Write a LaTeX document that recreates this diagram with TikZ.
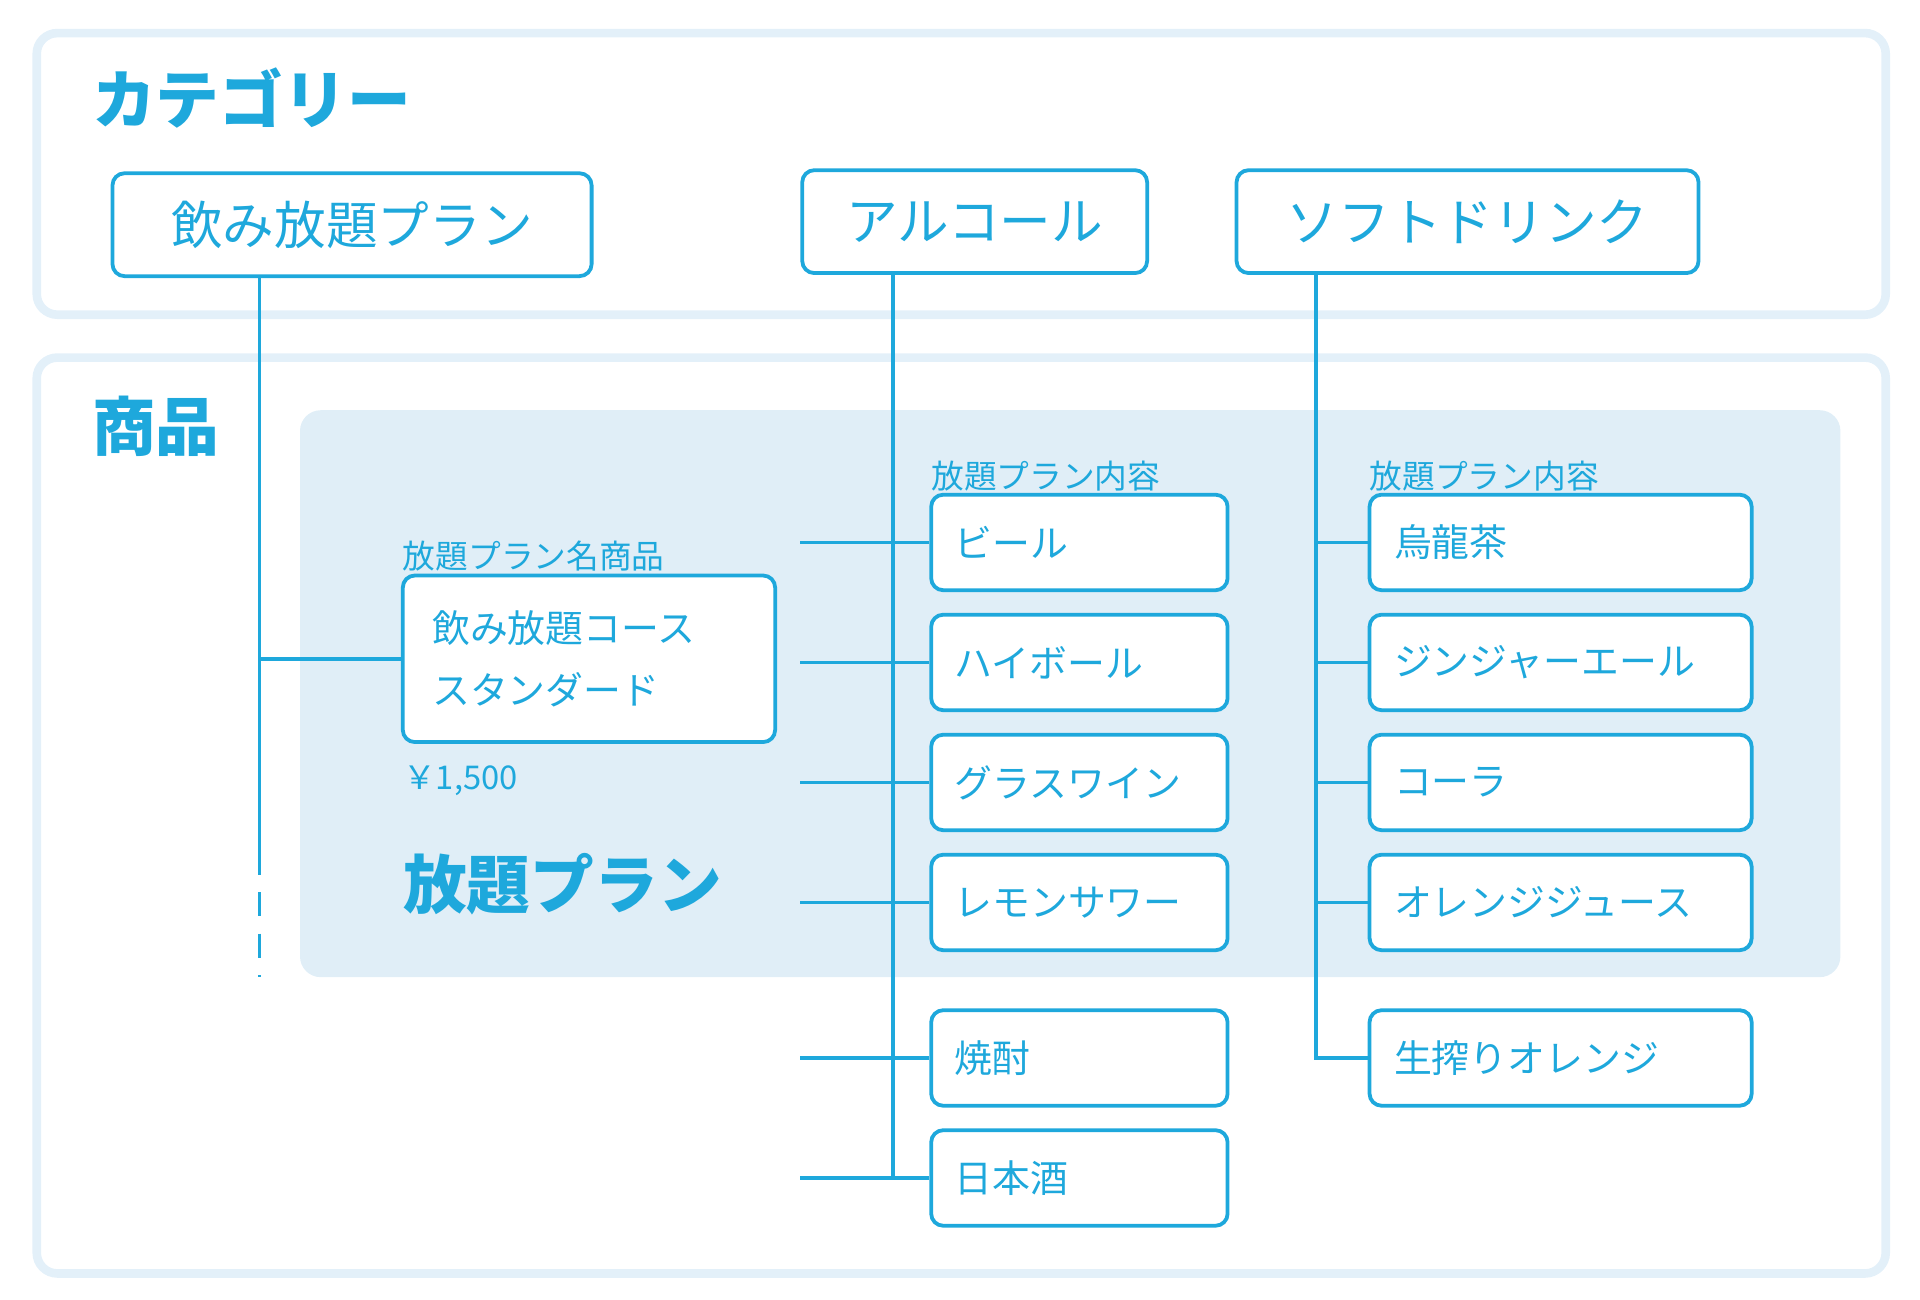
\documentclass[tikz,border=0pt]{standalone}
\usepackage{fontspec}
\setmainfont{Noto Sans CJK JP}
\usetikzlibrary{positioning}
\definecolor{skyblue}{HTML}{1EA8DC}
\definecolor{paleframe}{HTML}{E3F0F9}
\definecolor{panelfill}{HTML}{E0EEF7}
\tikzset{
  frame/.style={draw=paleframe,line width=5pt,rounded corners=12pt},
  catbox/.style={draw=skyblue,line width=2.2pt,rounded corners=7pt,text=skyblue,
    font=\fontsize{30pt}{34pt}\selectfont,minimum height=2.1cm,inner xsep=0.9cm},
  itembox/.style={draw=skyblue,line width=2.2pt,rounded corners=7pt,text=skyblue,fill=white,
    font=\fontsize{22pt}{26pt}\selectfont,minimum height=1.95cm,minimum width=6.05cm,
    text width=5.1cm,align=left},
  caption/.style={text=skyblue,font=\fontsize{19pt}{22pt}\selectfont,anchor=south west,inner sep=1pt},
  heading/.style={text=skyblue,font=\fontsize{37pt}{40pt}\selectfont\bfseries,anchor=west,inner sep=0pt},
  link/.style={draw=skyblue,line width=2.2pt}
}
\begin{document}
\begin{tikzpicture}[x=0.025cm,y=-0.025cm]
\useasboundingbox (0,0) rectangle (1568,1061);
% frames
\draw[frame] (30,27) rectangle (1540,257);
\draw[frame] (30,292) rectangle (1540,1040);
\fill[panelfill,rounded corners=12pt] (245,335) rectangle (1503,798);
\node[heading] (cattitle) at (75,80) {カテゴリー};
\node[heading] (itemtitle) at (75,348) {商品};
% categories
\node[catbox,minimum width=9.78cm] (plan) at (287.5,183.5) {飲み放題プラン};
\node[catbox,minimum width=6.95cm] (alcohol) at (796,181) {アルコール};
\node[catbox,minimum width=9.43cm] (soft) at (1198.5,181) {ソフトドリンク};
% plan
\node[itembox,minimum width=7.6cm,minimum height=3.4cm,text width=6.4cm,
  font=\fontsize{22pt}{36pt}\selectfont] (course) at (481,538) {飲み放題コース\\スタンダード};
\node[caption] (coursecap) at (course.north west) {放題プラン名商品};
\node[caption,anchor=north west,inner sep=0pt] (price) at (329,625) {￥1,500};
\node[heading] (panelname) at (329,722) {放題プラン};
\coordinate (plantop) at (212,227);
\coordinate (planmid) at (212,695);
\coordinate (planend) at (212,798);
\draw[link] (plantop) -- (planmid);
\draw[link,dash pattern=on 14pt off 10pt] (planmid) -- (planend);
\draw[link] (course.west) -- (course.west -| plantop);
% alcohol
\foreach \name/\txt/\y in {beer/ビール/443,highball/ハイボール/541,wine/グラスワイン/639,
    sour/レモンサワー/737,shochu/焼酎/864,sake/日本酒/962}{
  \node[itembox] (\name) at (881.5,\y) {\txt};
  \draw[link] (\name.west) -- (\name.west -| alcohol.south west) ++(62,0);
}
\draw[link] ([xshift=54pt]alcohol.south west) -- ([xshift=54pt]alcohol.south west |- sake.west) -- (sake.west);
\node[caption] (alcoholcap) at (beer.north west) {放題プラン内容};
% soft drinks
\foreach \name/\txt/\y in {oolong/烏龍茶/443,ginger/ジンジャーエール/541,cola/コーラ/639,
    juice/オレンジジュース/737,fresh/生搾りオレンジ/864}{
  \node[itembox,minimum width=7.8cm,text width=6.8cm] (\name) at (1274.5,\y) {\txt};
  \draw[link] (\name.west) -- +(-44,0);
}
\draw[link] (1075,224) -- (1075,864) -- (fresh.west);
\node[caption] (softcap) at (oolong.north west) {放題プラン内容};
\end{tikzpicture}
\end{document}
